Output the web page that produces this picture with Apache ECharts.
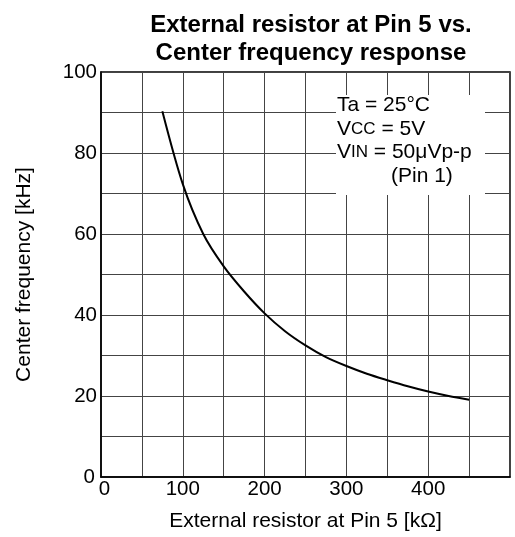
<!DOCTYPE html>
<html>
<head>
<meta charset="utf-8">
<script src="https://cdn.jsdelivr.net/npm/echarts@6/dist/echarts.min.js"></script>
<style>
  html, body { margin: 0; padding: 0; background: #fff; }
  #chart { width: 515px; height: 537px; }
</style>
</head>
<body>
<div id="chart"></div>
<script>
// resistor [kΩ] and center frequency [kHz]
const resistor = [75, 100, 125, 150, 175, 200, 225, 250, 275, 300, 325, 350, 375, 400, 425, 450];
const frequency = [90.3, 72.3, 60, 52, 45.8, 40.4, 36, 32.5, 29.6, 27.4, 25.5, 23.9, 22.4, 21.1, 20, 19.1];
const xTicks = [0, 100, 200, 300, 400];

const font = 'Liberation Sans, Arial, sans-serif';
const chart = echarts.init(document.getElementById('chart'));

chart.setOption({
  animation: false,
  title: {
    text: 'External resistor at Pin 5 vs.\nCenter frequency response',
    left: 306,
    top: 6,
    textAlign: 'center',
    textStyle: { fontFamily: font, fontSize: 24, fontWeight: 'bold', color: '#000', lineHeight: 28 },
  },
  grid: {
    left: 101, top: 72, right: 5, bottom: 57,
    show: true, borderColor: '#000', borderWidth: 1.5,
  },
  xAxis: {
    type: 'value', min: 0, max: 500, interval: 100,
    name: 'External resistor at Pin 5 [kΩ]',
    nameLocation: 'middle', nameGap: 34,
    nameTextStyle: { fontFamily: font, fontSize: 21, color: '#000' },
    axisLine: { show: true, lineStyle: { color: '#000', width: 1.5 } },
    axisTick: { show: false },
    axisLabel: {
      fontFamily: font, fontSize: 20.5, color: '#000', margin: 2,
      formatter: v => {
        if (v === 0) return '{z|0}';
        return xTicks.indexOf(v) >= 0 ? String(v) : '';
      },
      rich: { z: { fontFamily: font, fontSize: 20.5, color: '#000', padding: [0, 0, 0, 7] } },
    },
    splitLine: { show: true, lineStyle: { color: '#444', width: 1 } },
    minorTick: { show: false, splitNumber: 2 },
    minorSplitLine: { show: true, lineStyle: { color: '#444', width: 1 } },
  },
  yAxis: {
    type: 'value', min: 0, max: 100, interval: 20,
    name: 'Center frequency [kHz]',
    nameLocation: 'middle', nameGap: 66,
    nameTextStyle: { fontFamily: font, fontSize: 21, color: '#000' },
    axisLine: { show: true, lineStyle: { color: '#000', width: 1.5 } },
    axisTick: { show: false },
    axisLabel: {
      fontFamily: font, fontSize: 20.5, color: '#000', margin: 4,
      formatter: v => (v === 0 ? '{z|0}' : String(v)),
      rich: { z: { fontFamily: font, fontSize: 20.5, color: '#000', padding: [0, 2, 0, 0] } },
    },
    splitLine: { show: true, lineStyle: { color: '#444', width: 1 } },
    minorTick: { show: false, splitNumber: 2 },
    minorSplitLine: { show: true, lineStyle: { color: '#444', width: 1 } },
  },
  graphic: [
    { type: 'rect', z: 100, shape: { x: 336, y: 95, width: 149, height: 100 }, style: { fill: '#fff' } },
    {
      type: 'text', z: 101, left: 337, top: 95,
      style: {
        text: '{n|Ta = 25°C}\n{n|V}{s|CC}{n| = 5V}\n{n|V}{s|IN}{n| = 50μVp-p}',
        fill: '#000',
        rich: {
          n: { fontFamily: font, fontSize: 21, lineHeight: 23.5, fill: '#000' },
          s: { fontFamily: font, fontSize: 17, lineHeight: 23.5, fill: '#000' },
        },
      },
    },
    {
      type: 'text', z: 101, left: 391, top: 166,
      style: { text: '(Pin 1)', fontFamily: font, fontSize: 21, fill: '#000' },
    },
  ],
  series: [{
    type: 'line',
    data: resistor.map((r, i) => [r, frequency[i]]),
    smooth: 0.3,
    showSymbol: false,
    lineStyle: { color: '#000', width: 2 },
  }],
});
</script>
</body>
</html>
